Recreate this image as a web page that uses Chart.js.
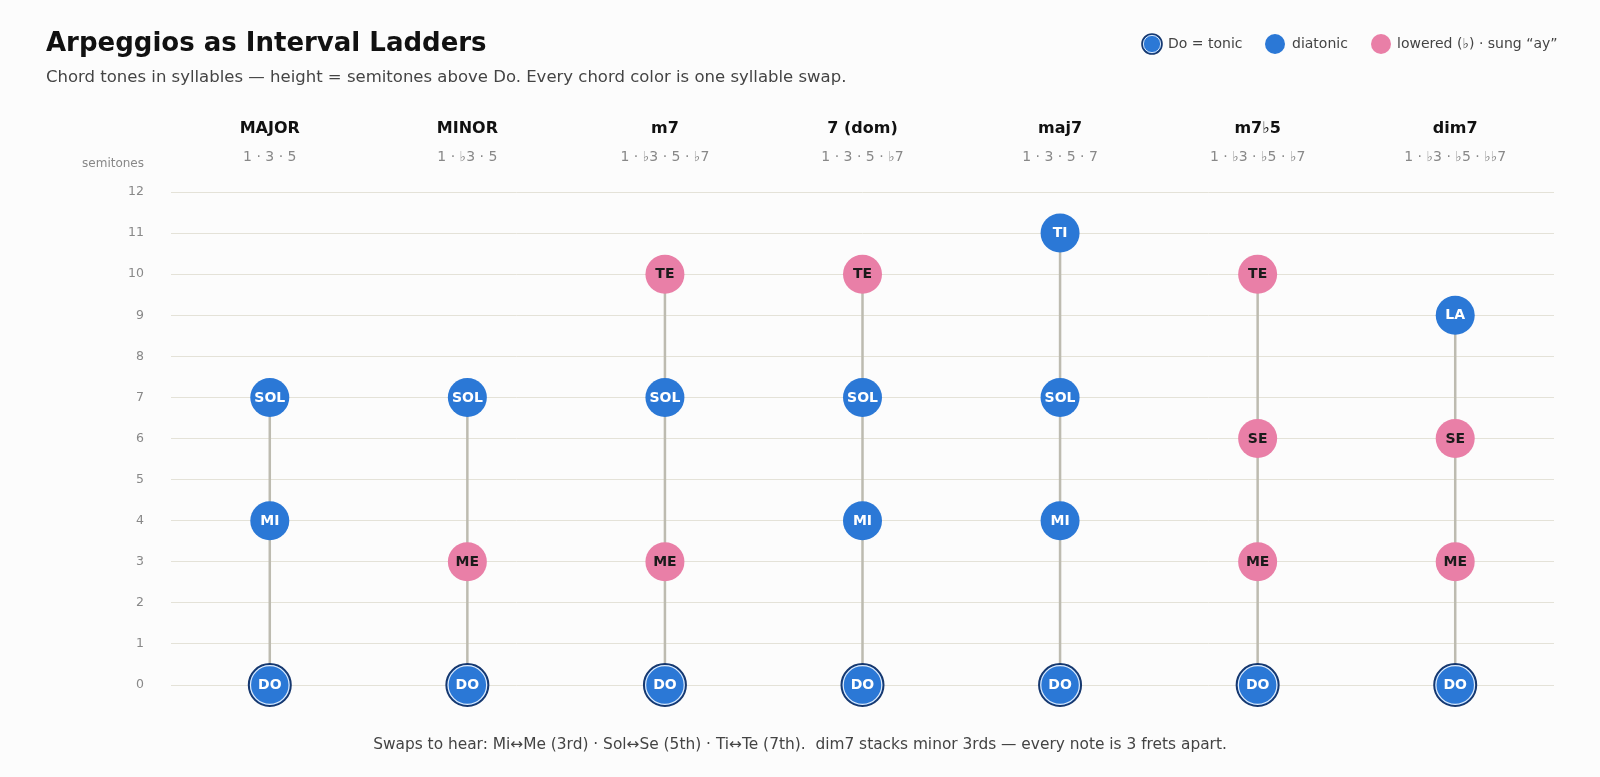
<!DOCTYPE html>
<html>
<head>
<meta charset="utf-8">
<script src="https://cdn.jsdelivr.net/npm/chart.js@4"></script>
<style>
html,body{margin:0;padding:0;background:#fcfcfc;}
#wrap{width:1600px;height:777px;position:relative;}
</style>
</head>
<body>
<div id="wrap"><canvas id="canvas" width="1600" height="777"></canvas></div>
<script>
const chordNames=["MAJOR","MINOR","m7","7 (dom)","maj7","m7\u266D5","dim7"];
const chordFormulas=["1 · 3 · 5","1 · \u266D3 · 5","1 · \u266D3 · 5 · \u266D7","1 · 3 · 5 · \u266D7","1 · 3 · 5 · 7","1 · \u266D3 · \u266D5 · \u266D7","1 · \u266D3 · \u266D5 · \u266D\u266D7"];
const chordSyllables=[
    ["DO","MI","SOL"],
    ["DO","ME","SOL"],
    ["DO","ME","SOL","TE"],
    ["DO","MI","SOL","TE"],
    ["DO","MI","SOL","TI"],
    ["DO","ME","SE","TE"],
    ["DO","ME","SE","LA"]
];
const chordSemitones=[
    [0,4,7],
    [0,3,7],
    [0,3,7,10],
    [0,4,7,10],
    [0,4,7,11],
    [0,3,6,10],
    [0,3,6,9]
];
const yTicks=[0,1,2,3,4,5,6,7,8,9,10,11,12];
const loweredSyllables=["ME","SE","TE"];

const BLUE="#2b78d6";
const PINK="#e97fa7";
const NAVY="#16386f";
const FONT="'DejaVu Sans', sans-serif";

function nodeColor(s){
    return loweredSyllables.includes(s)?PINK:BLUE;
}

const datasets=chordNames.map((name,i)=>({
    label:name,
    data:chordSemitones[i].map(v=>({x:name,y:v})),
    syllables:chordSyllables[i],
    borderColor:"#bdbbb0",
    borderWidth:2.5,
    pointRadius:chordSyllables[i].map(s=>s==="DO"?21:19.5),
    pointHoverRadius:chordSyllables[i].map(s=>s==="DO"?21:19.5),
    pointBackgroundColor:chordSyllables[i].map(nodeColor),
    pointBorderColor:chordSyllables[i].map(s=>s==="DO"?NAVY:nodeColor(s)),
    pointBorderWidth:chordSyllables[i].map(s=>s==="DO"?2:0),
    clip:false,
    fill:false
}));

const decor={
    id:"decor",
    beforeDraw(chart){
        const c=chart.ctx;
        c.save();
        c.fillStyle="#fcfcfc";
        c.fillRect(0,0,chart.width,chart.height);
        c.restore();
    },
    afterDatasetsDraw(chart){
        const c=chart.ctx;
        c.save();
        chart.data.datasets.forEach((ds,i)=>{
            const meta=chart.getDatasetMeta(i);
            meta.data.forEach((pt,j)=>{
                const s=ds.syllables[j];
                if(s==="DO"){
                    c.beginPath();
                    c.arc(pt.x,pt.y,19.3,0,Math.PI*2);
                    c.strokeStyle="rgba(255,255,255,0.85)";
                    c.lineWidth=1.2;
                    c.stroke();
                }
                c.font="bold 14px "+FONT;
                c.textAlign="center";
                c.textBaseline="middle";
                c.fillStyle=loweredSyllables.includes(s)?"#1b1b1b":"#ffffff";
                c.fillText(s,pt.x,pt.y+0.5);
            });
        });
        const xs=chart.scales.x;
        chordNames.forEach((n,i)=>{
            const x=xs.getPixelForValue(i);
            c.font="bold 16px "+FONT;
            c.fillStyle="#111";
            c.textAlign="center";
            c.textBaseline="middle";
            c.fillText(n,x,129);
            c.font="14px "+FONT;
            c.fillStyle="#888";
            c.fillText(chordFormulas[i],x,157);
        });
        c.font="12px "+FONT;
        c.fillStyle="#888";
        c.textAlign="right";
        c.fillText("semitones",144,164);
        // title
        c.textAlign="left";
        c.font="bold 26px "+FONT;
        c.fillStyle="#111";
        c.fillText("Arpeggios as Interval Ladders",46,44);
        c.font="16.5px "+FONT;
        c.fillStyle="#444";
        c.fillText("Chord tones in syllables \u2014 height = semitones above Do. Every chord color is one syllable swap.",46,78);
        // legend
        c.font="14px "+FONT;
        c.beginPath();c.arc(1152,44,10,0,Math.PI*2);c.fillStyle=BLUE;c.fill();
        c.lineWidth=1.6;c.strokeStyle=NAVY;c.stroke();
        c.beginPath();c.arc(1152,44,8.6,0,Math.PI*2);c.strokeStyle="rgba(255,255,255,0.8)";c.lineWidth=1;c.stroke();
        c.fillStyle="#444";c.fillText("Do = tonic",1168,44);
        c.beginPath();c.arc(1275,44,10,0,Math.PI*2);c.fillStyle=BLUE;c.fill();
        c.fillStyle="#444";c.fillText("diatonic",1292,44);
        c.beginPath();c.arc(1381,44,10,0,Math.PI*2);c.fillStyle=PINK;c.fill();
        c.fillStyle="#444";c.fillText("lowered (\u266D) · sung \u201Cay\u201D",1397,44);
        // footer
        c.textAlign="center";
        c.font="15.4px "+FONT;
        c.fillStyle="#444";
        c.fillText("Swaps to hear: Mi\u2194Me (3rd) · Sol\u2194Se (5th) · Ti\u2194Te (7th).  dim7 stacks minor 3rds \u2014 every note is 3 frets apart.",800,745);
        c.restore();
    }
};

new Chart(document.getElementById("canvas"),{
    type:"line",
    data:{labels:chordNames,datasets:datasets},
    options:{
        responsive:false,
        animation:false,
        layout:{padding:{top:192,bottom:92,right:46,left:0}},
        plugins:{legend:{display:false},tooltip:{enabled:false}},
        events:[],
        scales:{
            x:{type:"category",offset:true,display:false},
            y:{
                min:0,max:12,
                afterFit(s){s.width=171;},
                afterBuildTicks(s){s.ticks=yTicks.map(v=>({value:v}));},
                grid:{color:"#e4e2d8",drawTicks:false,lineWidth:1},
                border:{display:false},
                ticks:{padding:27,color:"#888",font:{family:FONT,size:12.5}}
            }
        }
    },
    plugins:[decor]
});
</script>
</body>
</html>
